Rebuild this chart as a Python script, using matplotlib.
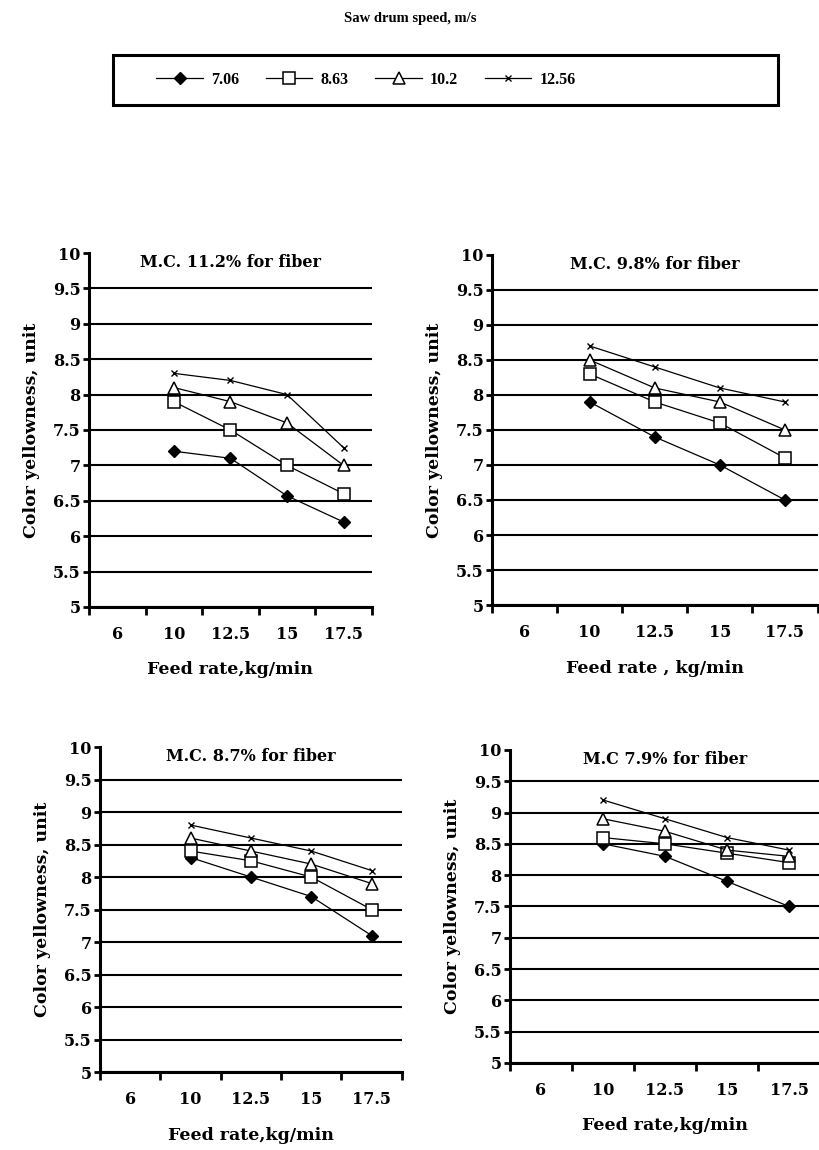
import matplotlib.pyplot as plt
from matplotlib.lines import Line2D
from matplotlib.patches import Rectangle

plt.rcParams['font.family'] = ['DejaVu Serif']
plt.rcParams['font.weight'] = 'bold'
plt.rcParams['axes.labelweight'] = 'bold'

# categories on the x axis (Excel-style category axis)
feed_cats = ['6', '10', '12.5', '15', '17.5']
data_cats = ['10', '12.5', '15', '17.5']
speeds = ['7.06', '8.63', '10.2', '12.56']
yticks = [5, 5.5, 6, 6.5, 7, 7.5, 8, 8.5, 9, 9.5, 10]

# colour yellowness per saw drum speed (rows follow speeds)
mc_112 = [[7.2, 7.1, 6.57, 6.2],
          [7.9, 7.5, 7.0, 6.6],
          [8.1, 7.9, 7.6, 7.0],
          [8.3, 8.2, 8.0, 7.25]]
mc_98 = [[7.9, 7.4, 7.0, 6.5],
         [8.3, 7.9, 7.6, 7.1],
         [8.5, 8.1, 7.9, 7.5],
         [8.7, 8.4, 8.1, 7.9]]
mc_87 = [[8.3, 8.0, 7.7, 7.1],
         [8.4, 8.25, 8.0, 7.5],
         [8.6, 8.4, 8.2, 7.9],
         [8.8, 8.6, 8.4, 8.1]]
mc_79 = [[8.5, 8.3, 7.9, 7.5],
         [8.6, 8.5, 8.35, 8.2],
         [8.9, 8.7, 8.4, 8.3],
         [9.2, 8.9, 8.6, 8.4]]

titles = ['M.C. 11.2% for fiber', 'M.C. 9.8% for fiber',
          'M.C. 8.7% for fiber', 'M.C 7.9% for fiber']
xlabels = ['Feed rate,kg/min', 'Feed rate , kg/min',
           'Feed rate,kg/min', 'Feed rate,kg/min']
panels = [mc_112, mc_98, mc_87, mc_79]

styles = [dict(marker='D', ms=6, mfc='black', mec='black'),
          dict(marker='s', ms=8, mfc='white', mec='black', mew=1.1),
          dict(marker='^', ms=9, mfc='white', mec='black', mew=1.1),
          dict(marker='x', ms=5, mec='black', mew=1.0)]

# axes rectangles [left, bottom, width, height] in figure fractions
rects = [[0.1085, 0.4722, 0.345, 0.3078],
         [0.600, 0.4739, 0.397, 0.3044],
         [0.122, 0.0678, 0.368, 0.2826],
         [0.622, 0.0757, 0.378, 0.2722]]

fig = plt.figure(figsize=(8.2, 11.5), dpi=100)

for rect, vals, title, xl in zip(rects, panels, titles, xlabels):
    ax = fig.add_axes(rect)
    pos = [feed_cats.index(c) + 0.5 for c in data_cats]
    for row, st in zip(vals, styles):
        ax.plot(pos, row, color='black', lw=0.9, **st)
    ax.set_xlim(0, len(feed_cats))
    ax.set_ylim(5, 10)
    ax.set_yticks(yticks)
    ax.set_yticklabels(['%g' % v for v in yticks], fontsize=11.5)
    ax.set_xticks(range(len(feed_cats) + 1))
    ax.set_xticklabels([])
    ax.set_xticks([i + 0.5 for i in range(len(feed_cats))], minor=True)
    ax.set_xticklabels(feed_cats, minor=True, fontsize=11.5)
    ax.tick_params(axis='x', which='major', length=6, width=2, direction='out')
    ax.tick_params(axis='x', which='minor', length=0, pad=14)
    ax.tick_params(axis='y', length=4, width=2, direction='out', pad=2)
    ax.grid(axis='y', color='black', lw=1.5)
    ax.yaxis.get_gridlines()[-1].set_visible(False)
    for s in ['top', 'right']:
        ax.spines[s].set_visible(False)
    ax.spines['left'].set_linewidth(2.2)
    ax.spines['bottom'].set_linewidth(2.2)
    ax.set_axisbelow(True)
    ax.text(0.5, 0.998, title, transform=ax.transAxes, ha='center', va='top',
            fontsize=11.5)
    ax.set_ylabel('Color yellowness, unit', fontsize=12.5, labelpad=9)
    ax.set_xlabel(xl, fontsize=12.5, labelpad=13)

fig.text(0.5, 0.984, 'Saw drum speed, m/s', ha='center', va='center',
         fontsize=10.5, family='Liberation Serif')

# legend box spans wider than its entries
fig.patches.append(Rectangle((113 / 820, 1 - 105 / 1150), 665 / 820, 50 / 1150,
                             transform=fig.transFigure, fill=False,
                             edgecolor='black', lw=2.2))
handles = [Line2D([], [], color='black', lw=0.9, **st) for st in styles]
leg = fig.legend(handles, speeds, loc='center left', ncol=4,
                 bbox_to_anchor=(142 / 820, 1 - 80 / 1150),
                 frameon=False, prop={'family': 'Liberation Serif',
                                      'weight': 'bold', 'size': 11.5},
                 handlelength=2.9, handletextpad=0.5, columnspacing=1.7)

fig.savefig('out.png', dpi=100)
